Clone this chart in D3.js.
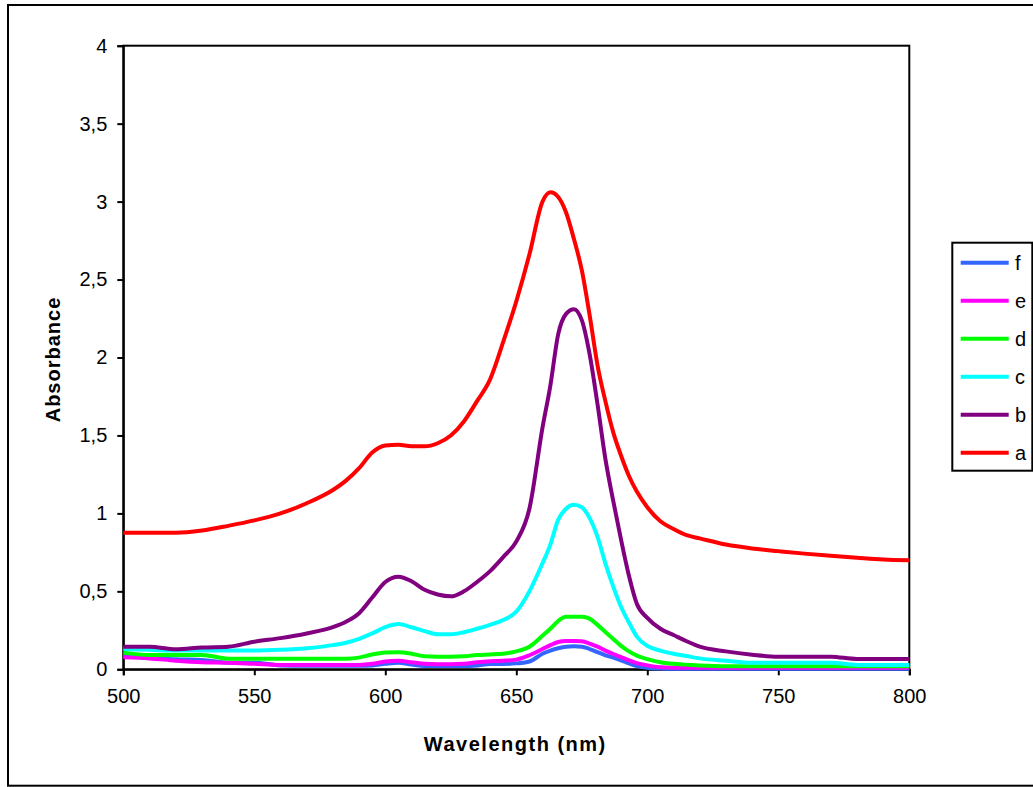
<!DOCTYPE html>
<html>
<head>
<meta charset="utf-8">
<script src="https://cdn.jsdelivr.net/npm/d3@7"></script>
<style>
  body { margin: 0; background: #fff; }
  svg { display: block; font-family: "Liberation Sans", Arial, sans-serif; }
</style>
</head>
<body>
<script>
"use strict";
// wavelength grid (nm) shared by every series
const wavelengths = [500, 510, 520, 530, 540, 550, 560, 570, 580, 585, 590, 595, 600, 605, 610, 615, 620, 625, 630, 635,
    640, 645, 650, 655, 660, 663, 666, 669, 672, 675, 678, 681, 684, 687, 690, 693, 696, 700, 705, 710,
    715, 720, 730, 740, 750, 760, 770, 780, 790, 800]

const seriesA = [0.876, 0.876, 0.876, 0.89, 0.92, 0.955, 1.0, 1.065, 1.15, 1.21, 1.29, 1.39, 1.435, 1.44, 1.43, 1.43, 1.45, 1.5, 1.59, 1.72,
    1.86, 2.1, 2.36, 2.66, 3.0, 3.06, 3.03, 2.93, 2.76, 2.56, 2.27, 1.95, 1.72, 1.52, 1.37, 1.24, 1.14, 1.04, 0.95, 0.9,
    0.86, 0.84, 0.8, 0.775, 0.758, 0.742, 0.728, 0.716, 0.705, 0.7]
const seriesB = [0.145, 0.145, 0.128, 0.14, 0.145, 0.177, 0.2, 0.23, 0.27, 0.305, 0.36, 0.46, 0.56, 0.594, 0.565, 0.51, 0.48, 0.468, 0.5, 0.56,
    0.63, 0.72, 0.82, 1.03, 1.55, 1.82, 2.15, 2.28, 2.31, 2.24, 2.02, 1.7, 1.35, 1.08, 0.83, 0.6, 0.42, 0.33, 0.26, 0.22,
    0.18, 0.145, 0.115, 0.094, 0.081, 0.081, 0.081, 0.066, 0.066, 0.066]
const seriesC = [0.13, 0.125, 0.12, 0.12, 0.12, 0.12, 0.125, 0.135, 0.155, 0.17, 0.195, 0.23, 0.27, 0.29, 0.27, 0.245, 0.225, 0.225, 0.238, 0.26,
    0.285, 0.316, 0.37, 0.5, 0.68, 0.8, 0.96, 1.03, 1.055, 1.04, 0.97, 0.85, 0.68, 0.53, 0.4, 0.3, 0.21, 0.15, 0.12, 0.1,
    0.085, 0.07, 0.055, 0.042, 0.042, 0.042, 0.042, 0.028, 0.028, 0.028]
const seriesD = [0.107, 0.092, 0.092, 0.092, 0.068, 0.068, 0.068, 0.068, 0.068, 0.068, 0.075, 0.095, 0.108, 0.109, 0.1, 0.083, 0.081, 0.081, 0.083, 0.092,
    0.095, 0.1, 0.115, 0.145, 0.215, 0.26, 0.31, 0.337, 0.337, 0.337, 0.325, 0.285, 0.24, 0.195, 0.15, 0.115, 0.088, 0.065, 0.045, 0.035,
    0.03, 0.025, 0.02, 0.02, 0.02, 0.02, 0.02, 0.02, 0.02, 0.02]
const seriesE = [0.077, 0.07, 0.055, 0.045, 0.042, 0.035, 0.028, 0.028, 0.028, 0.028, 0.028, 0.035, 0.05, 0.055, 0.045, 0.035, 0.032, 0.032, 0.035, 0.045,
    0.052, 0.055, 0.062, 0.09, 0.13, 0.155, 0.175, 0.182, 0.182, 0.18, 0.165, 0.145, 0.12, 0.098, 0.078, 0.058, 0.04, 0.025, 0.013, 0.01,
    0.01, 0.01, 0.01, 0.01, 0.01, 0.01, 0.01, 0.01, 0.01, 0.01]
const seriesF = [0.085, 0.075, 0.064, 0.06, 0.042, 0.042, 0.025, 0.022, 0.022, 0.022, 0.022, 0.025, 0.035, 0.042, 0.03, 0.021, 0.021, 0.021, 0.021, 0.025,
    0.034, 0.034, 0.038, 0.05, 0.1, 0.12, 0.135, 0.145, 0.148, 0.145, 0.13, 0.11, 0.09, 0.075, 0.058, 0.038, 0.02, 0.01, 0.005, 0.003,
    0.003, 0.003, 0.003, 0.003, 0.003, 0.003, 0.003, 0.003, 0.003, 0.003]

// legend order (top to bottom) is also drawing order
const seriesNames = ["f", "e", "d", "c", "b", "a"]
const seriesColors = ["#3366ff", "#ff00ff", "#00ff00", "#00ffff", "#800080", "#ff0000"]
const seriesValues = [seriesF, seriesE, seriesD, seriesC, seriesB, seriesA]

const xTicks = [500, 550, 600, 650, 700, 750, 800]
const yTicks = [0, 0.5, 1, 1.5, 2, 2.5, 3, 3.5, 4]

const measurements = {
    width: 1033,
    height: 787,
    left: 123.3,
    right: 909.3,
    top: 45.7,
    bottom: 669.3
}

const svg = d3.select("body").append("svg")
    .attr("width", measurements.width)
    .attr("height", measurements.height)

// outer chart frame
svg.append("rect")
    .attr("x", 8).attr("y", 5)
    .attr("width", 1040).attr("height", 780.7)
    .attr("fill", "#fff")
    .attr("stroke", "#000").attr("stroke-width", 2)

const scaleX = d3.scaleLinear()
    .domain([500, 800])
    .range([measurements.left, measurements.right])

const scaleY = d3.scaleLinear()
    .domain([0, 4])
    .range([measurements.bottom, measurements.top])

const comma = v => String(v).replace(".", ",")

// plot area frame
svg.append("rect")
    .attr("x", measurements.left).attr("y", measurements.top)
    .attr("width", measurements.right - measurements.left)
    .attr("height", measurements.bottom - measurements.top)
    .attr("fill", "none")
    .attr("stroke", "#000").attr("stroke-width", 2)

const xAxis = d3.axisBottom(scaleX).tickValues(xTicks).tickSize(6).tickPadding(14).tickFormat(d => d)
const yAxis = d3.axisLeft(scaleY).tickValues(yTicks).tickSize(6).tickPadding(10).tickFormat(comma)

const gx = svg.append("g")
    .attr("transform", `translate(0,${measurements.bottom})`)
    .call(xAxis)
const gy = svg.append("g")
    .attr("transform", `translate(${measurements.left},0)`)
    .call(yAxis)

for (const g of [gx, gy]) {
    g.select(".domain").attr("stroke-width", 2)
    g.selectAll(".tick line").attr("stroke-width", 2)
    g.selectAll(".tick text")
        .attr("font-size", 20)
        .attr("font-family", "Liberation Sans, Arial, sans-serif")
        .attr("fill", "#000")
}

// lines
const line = d3.line()
    .x((d, i) => scaleX(wavelengths[i]))
    .y(d => scaleY(d))
    .curve(d3.curveMonotoneX)

svg.append("g").selectAll("path")
    .data(seriesValues)
    .enter()
    .append("path")
        .attr("d", line)
        .attr("fill", "none")
        .attr("stroke", (d, i) => seriesColors[i])
        .attr("stroke-width", 4)
        .attr("stroke-linejoin", "round")

// axis titles
svg.append("text")
    .attr("x", (measurements.left + measurements.right) / 2 - 1)
    .attr("y", 751)
    .attr("text-anchor", "middle")
    .attr("font-size", 20)
    .attr("font-weight", "bold")
    .attr("letter-spacing", 1.5)
    .text("Wavelength (nm)")

svg.append("text")
    .attr("transform", `translate(59.5,${(measurements.top + measurements.bottom) / 2 + 2}) rotate(-90)`)
    .attr("text-anchor", "middle")
    .attr("font-size", 20)
    .attr("font-weight", "bold")
    .attr("letter-spacing", 1)
    .text("Absorbance")

// legend
const legend = svg.append("g")
svg.append("rect")
    .attr("x", 952.3).attr("y", 242.7)
    .attr("width", 80).attr("height", 228)
    .attr("fill", "none")
    .attr("stroke", "#000").attr("stroke-width", 2)

const items = legend.selectAll("g")
    .data(seriesNames)
    .enter()
    .append("g")
        .attr("transform", (d, i) => `translate(0,${262.7 + i * 38})`)
items.append("line")
    .attr("x1", 960.7).attr("x2", 1008.7)
    .attr("stroke", (d, i) => seriesColors[i])
    .attr("stroke-width", 4)
items.append("text")
    .attr("x", 1015)
    .attr("y", 7)
    .attr("font-size", 20)
    .text(d => d)
</script>
</body>
</html>
